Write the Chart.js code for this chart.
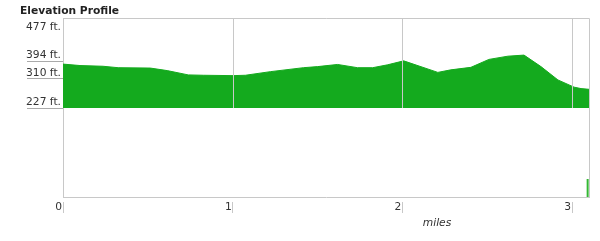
<!DOCTYPE html>
<html>
<head>
<meta charset="utf-8">
<title>Elevation Profile</title>
<script src="https://cdn.jsdelivr.net/npm/chart.js@4.4.1/dist/chart.umd.min.js"></script>
<style>
  html, body { margin: 0; padding: 0; background: #fff; }
  canvas { display: block; }
</style>
</head>
<body>
<canvas id="myGraph" width="600" height="241"></canvas>
<script>
// distance along the route (miles) and elevation (ft.)
const miles = [0, 0.1, 0.236, 0.325, 0.514, 0.614, 0.738, 0.827, 1.004, 1.075, 1.222, 1.417, 1.5, 1.618, 1.736, 1.825, 1.913, 2.008, 2.209, 2.285, 2.404, 2.51, 2.622, 2.717, 2.817, 2.917, 3.012, 3.053, 3.1];
const elevation = [349, 345, 343, 339, 338, 331, 319, 318, 317, 318, 328, 339, 342, 348, 339, 339, 347, 358, 326, 333, 340, 362, 371, 374, 342, 305, 285, 281, 279];

// little marker at the end of the route
const markerMiles = [3.092, 3.092];
const markerElevation = [-20, 30];

const xTicks = [0, 1, 2, 3];
const yTicks = [434, 356, 308, 227];
const yTickLabels = ["477 ft.", "394 ft.", "310 ft.", "227 ft."];
const baseElevation = 227;

Chart.defaults.font.family = "'DejaVu Sans', Verdana, sans-serif";

// frame, grid lines over the profile and the "miles" caption
const frameLines = {
  id: "frameLines",
  afterDatasetsDraw(chart) {
    const { ctx, chartArea, scales } = chart;
    const top = chartArea.top + 0.5;
    const base = scales.y.getPixelForValue(baseElevation);
    ctx.save();
    ctx.strokeStyle = "#c8c8c8";
    ctx.lineWidth = 1;
    ctx.beginPath();
    ctx.moveTo(chartArea.left, top);
    ctx.lineTo(chartArea.right + 0.5, top);
    ctx.lineTo(chartArea.right + 0.5, chartArea.bottom);
    xTicks.slice(1).forEach((v) => {
      const x = Math.round(scales.x.getPixelForValue(v)) + 0.5;
      ctx.moveTo(x, top);
      ctx.lineTo(x, base);
    });
    ctx.stroke();
    ctx.fillStyle = "#333";
    ctx.font = "italic 10.7px 'DejaVu Sans'";
    ctx.textAlign = "center";
    ctx.textBaseline = "alphabetic";
    ctx.fillText("miles", 437, 225.5);
    ctx.restore();
  },
};

const chart = new Chart(document.getElementById("myGraph"), {
  type: "line",
  data: {
    datasets: [
      {
        label: "marker",
        data: markerMiles.map((m, i) => ({ x: m, y: markerElevation[i] })),
        borderColor: "#33b833",
        borderWidth: 2,
        pointRadius: 0,
        fill: false,
      },
      {
        label: "elevation",
        data: miles.map((m, i) => ({ x: m, y: elevation[i] })),
        borderColor: "#14aa1e",
        backgroundColor: "#14aa1e",
        borderWidth: 1,
        pointRadius: 0,
        tension: 0,
        fill: { value: baseElevation },
      },
    ],
  },
  options: {
    responsive: false,
    animation: false,
    layout: { padding: { left: 20, right: 11, top: 0, bottom: 0 } },
    plugins: {
      legend: { display: false },
      tooltip: { enabled: false },
      title: {
        display: true,
        text: "Elevation Profile",
        align: "start",
        color: "#222",
        font: { size: 10.7, weight: "bold", lineHeight: 13 / 10.7 },
        padding: { top: 5, bottom: 0 },
      },
    },
    scales: {
      x: {
        type: "linear",
        min: 0,
        max: 3.1,
        afterBuildTicks: (scale) => {
          scale.ticks = xTicks.map((v) => ({ value: v }));
        },
        afterFit: (scale) => {
          scale.height = 44;
        },
        border: { display: true, color: "#c8c8c8" },
        grid: {
          drawOnChartArea: false,
          tickLength: 16,
          tickBorderDash: [0, 4, 12, 20],
          tickColor: "#c8c8c8",
        },
        ticks: {
          align: "end",
          labelOffset: -1,
          padding: -12,
          color: "#333",
          font: { size: 10.7 },
          maxRotation: 0,
          autoSkip: false,
        },
      },
      y: {
        min: -20,
        max: 477,
        afterBuildTicks: (scale) => {
          scale.ticks = yTicks.map((v) => ({ value: v }));
        },
        afterFit: (scale) => {
          scale.width = 43;
        },
        border: { display: true, color: "#c8c8c8" },
        grid: {
          drawOnChartArea: false,
          tickLength: 36,
          tickColor: (ctx) => (ctx.index === 0 ? "rgba(0,0,0,0)" : "#aaa"),
        },
        ticks: {
          padding: -34,
          labelOffset: -6,
          color: "#333",
          font: { size: 10.7 },
          callback: (value, index) => yTickLabels[index],
        },
      },
    },
  },
  plugins: [frameLines],
});
</script>
</body>
</html>
